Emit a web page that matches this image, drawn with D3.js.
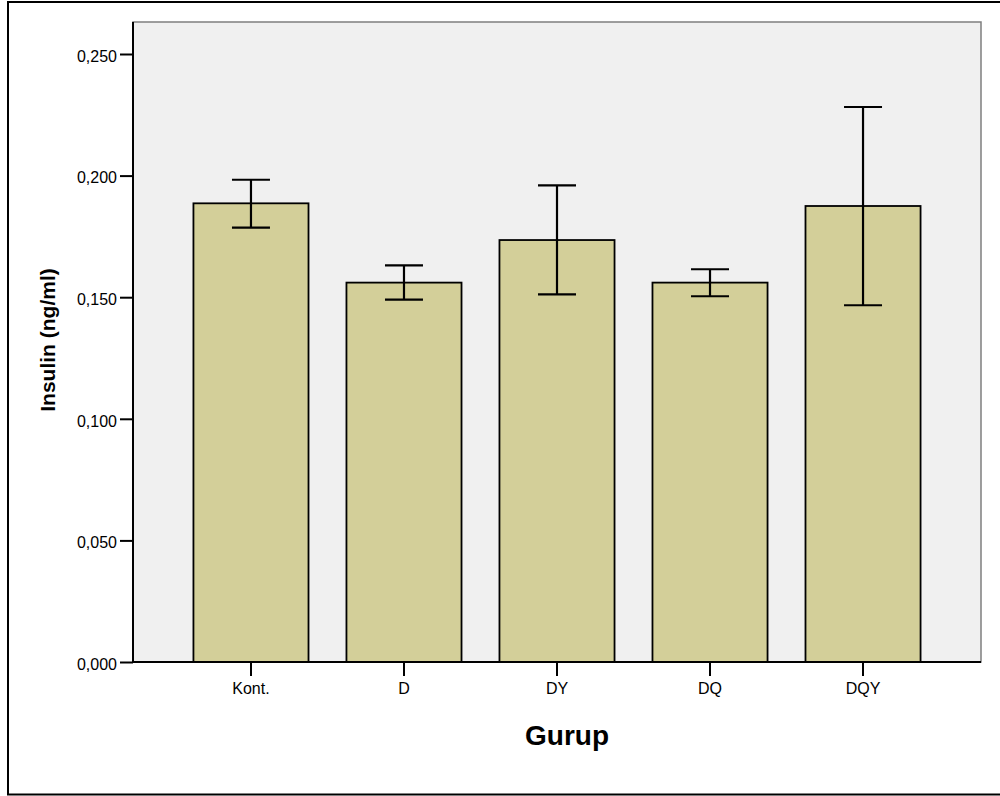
<!DOCTYPE html>
<html>
<head>
<meta charset="utf-8">
<script src="https://cdn.jsdelivr.net/npm/d3@7"></script>
<style>
  body { margin: 0; background: #fff; }
  svg text { font-family: Arial, "Liberation Sans", sans-serif; }
</style>
</head>
<body>
<div id="chart"></div>
<script>
//DATA--------------------
var groups = ["Kont.", "D", "DY", "DQ", "DQY"];
var means = [0.1886, 0.1560, 0.1735, 0.1560, 0.1875];
var errLow = [0.1786, 0.1490, 0.1512, 0.1504, 0.1467];
var errHigh = [0.1983, 0.1631, 0.1960, 0.1615, 0.2282];
var yTicks = [0, 0.05, 0.10, 0.15, 0.20, 0.25];

//SET BOUNDARIES--------------------
var svgWidth = 1000;
var svgHeight = 796;

var plot = { left: 133, top: 22, right: 981, bottom: 662 };

var svg = d3.select("#chart")
    .append("svg")
    .attr("width", svgWidth)
    .attr("height", svgHeight);

// outer frame (right edge runs off the page)
svg.append("rect")
    .attr("x", 8)
    .attr("y", 2)
    .attr("width", 1100)
    .attr("height", 792.5)
    .attr("fill", "none")
    .attr("stroke", "#000")
    .attr("stroke-width", 2);

// scales
var yScale = d3.scaleLinear()
    .domain([0, 0.25 * (plot.bottom - plot.top) / 608])
    .range([plot.bottom, plot.top]);

var xScale = d3.scaleBand()
    .domain(groups)
    .range([plot.left, plot.right])
    .paddingInner(0.248)
    .paddingOuter(0.395);

// plot background
svg.append("rect")
    .attr("x", plot.left)
    .attr("y", plot.top)
    .attr("width", plot.right - plot.left)
    .attr("height", plot.bottom - plot.top)
    .attr("fill", "#f0f0f0")
    .attr("stroke", "#7f7f7f")
    .attr("stroke-width", 1.5);

// bars
svg.selectAll("rect.bar")
    .data(groups)
    .enter()
    .append("rect")
    .attr("class", "bar")
    .attr("x", d => xScale(d))
    .attr("y", (d, i) => yScale(means[i]))
    .attr("width", xScale.bandwidth())
    .attr("height", (d, i) => yScale(0) - yScale(means[i]))
    .attr("fill", "#d3cf99")
    .attr("stroke", "#000")
    .attr("stroke-width", 1.8);

// error bars
var capHalf = 19;
var errs = svg.selectAll("g.err")
    .data(groups)
    .enter()
    .append("g")
    .attr("class", "err")
    .attr("stroke", "#000")
    .attr("stroke-width", 2.2);

errs.append("line")
    .attr("x1", d => xScale(d) + xScale.bandwidth() / 2)
    .attr("x2", d => xScale(d) + xScale.bandwidth() / 2)
    .attr("y1", (d, i) => yScale(errLow[i]))
    .attr("y2", (d, i) => yScale(errHigh[i]));

errs.append("line")
    .attr("x1", d => xScale(d) + xScale.bandwidth() / 2 - capHalf)
    .attr("x2", d => xScale(d) + xScale.bandwidth() / 2 + capHalf)
    .attr("y1", (d, i) => yScale(errHigh[i]))
    .attr("y2", (d, i) => yScale(errHigh[i]));

errs.append("line")
    .attr("x1", d => xScale(d) + xScale.bandwidth() / 2 - capHalf)
    .attr("x2", d => xScale(d) + xScale.bandwidth() / 2 + capHalf)
    .attr("y1", (d, i) => yScale(errLow[i]))
    .attr("y2", (d, i) => yScale(errLow[i]));

// y axis
var leftAxis = d3.axisLeft(yScale)
    .tickValues(yTicks)
    .tickSize(13)
    .tickSizeOuter(0)
    .tickPadding(3)
    .tickFormat(d => d3.format(".3f")(d).replace(".", ","));

var yAxis = svg.append("g")
    .attr("transform", `translate(${plot.left}, 0)`)
    .call(leftAxis);

yAxis.select(".domain")
    .attr("stroke", "#000")
    .attr("stroke-width", 2)
    .attr("d", `M0,${plot.top}V${plot.bottom}`);
yAxis.selectAll(".tick line").attr("stroke-width", 2);
yAxis.selectAll(".tick text")
    .attr("font-size", 16)
    .attr("fill", "#000")
    .attr("dy", "0.45em")
    .style("font-family", "Arial, 'Liberation Sans', sans-serif");

// x axis
var bottomAxis = d3.axisBottom(xScale)
    .tickSize(14)
    .tickSizeOuter(0)
    .tickPadding(7);

var xAxis = svg.append("g")
    .attr("transform", `translate(0, ${plot.bottom})`)
    .call(bottomAxis);

xAxis.select(".domain")
    .attr("stroke", "#000")
    .attr("stroke-width", 2)
    .attr("d", `M${plot.left},0H${plot.right}`);
xAxis.selectAll(".tick line").attr("stroke-width", 2);
xAxis.selectAll(".tick text")
    .attr("font-size", 16)
    .attr("fill", "#000")
    .style("font-family", "Arial, 'Liberation Sans', sans-serif");

// axis titles
svg.append("text")
    .attr("transform", "translate(55, 340) rotate(-90)")
    .attr("text-anchor", "middle")
    .attr("font-size", 21)
    .attr("font-weight", "bold")
    .text("Insulin (ng/ml)");

svg.append("text")
    .attr("x", 567)
    .attr("y", 745)
    .attr("text-anchor", "middle")
    .attr("font-size", 28)
    .attr("font-weight", "bold")
    .text("Gurup");
</script>
</body>
</html>
